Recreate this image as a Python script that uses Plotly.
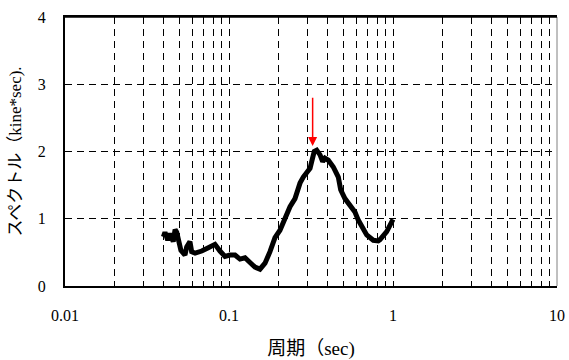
import math
import plotly.graph_objects as go

# Period (sec) and spectrum values (kine*sec)
period = [0.0398, 0.0407, 0.0423, 0.0437, 0.0457, 0.0469, 0.048, 0.0491, 0.0509,
          0.0539, 0.0552, 0.0578, 0.0592, 0.0621, 0.0682, 0.0748, 0.0821, 0.0881,
          0.0945, 0.1014, 0.1088, 0.1167, 0.1252, 0.1343, 0.144, 0.1545, 0.1658,
          0.1778, 0.1907, 0.2046, 0.2195, 0.2355, 0.2526, 0.271, 0.2838, 0.312,
          0.3193, 0.331, 0.3426, 0.359, 0.3726, 0.3846, 0.4032, 0.4325, 0.464,
          0.4797, 0.5093, 0.547, 0.586, 0.6142, 0.644, 0.6913, 0.7585, 0.8128,
          0.833, 0.9155, 1.0]
spectrum = [0.73, 0.80, 0.68, 0.78, 0.66, 0.84, 0.80, 0.66, 0.53,
            0.46, 0.58, 0.66, 0.51, 0.49, 0.52, 0.57, 0.62, 0.52,
            0.44, 0.46, 0.46, 0.40, 0.42, 0.35, 0.28, 0.25, 0.34,
            0.51, 0.72, 0.83, 1.00, 1.18, 1.30, 1.53, 1.62, 1.75,
            1.85, 2.00, 2.02, 1.95, 1.85, 1.90, 1.87, 1.77, 1.62,
            1.43, 1.30, 1.20, 1.10, 0.98, 0.88, 0.76, 0.68, 0.67,
            0.69, 0.81, 0.99]

peak_period = 0.3236
arrow_top = 2.82
arrow_tip = 2.08

y_ticks = [0, 1, 2, 3, 4]
x_tickvals = [m * 10 ** e for e in (-2, -1, 0) for m in range(1, 10)] + [10]
x_labels = {0.01: "0.01", 0.1: "0.1", 1: "1", 10: "10"}
x_ticktext = [x_labels.get(v, "") for v in x_tickvals]

serif = "Times New Roman, Liberation Serif, serif"
cjk = "Noto Sans CJK JP, sans-serif"


def cj(s):
    return '<span style="font-family:' + cjk + '">' + s + '</span>'


def se(s):
    return '<span style="font-family:' + serif + '">' + s + '</span>'


fig = go.Figure()
fig.add_trace(go.Scatter(x=period, y=spectrum, mode="lines",
                         line=dict(color="black", width=5), hoverinfo="skip"))

fig.add_annotation(x=math.log10(peak_period), y=arrow_tip,
                   ax=math.log10(peak_period), ay=arrow_top,
                   xref="x", yref="y", axref="x", ayref="y",
                   showarrow=True, arrowhead=2, arrowsize=1.2, arrowwidth=1.5,
                   arrowcolor="#ff0000", text="")

fig.add_shape(type="line", xref="paper", yref="paper", x0=1, x1=1, y0=0, y1=1,
              line=dict(color="#808080", width=1))
fig.add_shape(type="line", xref="paper", yref="paper", x0=0, x1=1, y0=1, y1=1,
              line=dict(color="black", width=1.5))

fig.update_layout(
    width=569, height=360,
    margin=dict(l=65, r=12, t=17, b=74, autoexpand=False),
    paper_bgcolor="white", plot_bgcolor="white",
    showlegend=False,
    font=dict(family=serif, size=15, color="black"),
    xaxis=dict(type="log", range=[-2, 1], automargin=False,
               tickvals=x_tickvals, ticktext=x_ticktext,
               ticks="inside", ticklen=5, tickcolor="black", tickwidth=1,
               showline=True, linecolor="black", linewidth=2, mirror="ticks",
               showgrid=True, gridcolor="black", gridwidth=1, griddash="7px,5px",
               ticklabelstandoff=14, zeroline=False,
               tickfont=dict(family=serif, size=16),
               title=dict(text=cj("周期（") + se("sec)"),
                          font=dict(size=19), standoff=20)),
    yaxis=dict(range=[0, 4], tickvals=y_ticks, automargin=False,
               ticks="", showline=True, linecolor="black", linewidth=2, mirror=False,
               showgrid=True, gridcolor="black", gridwidth=1, griddash="7px,5px",
               ticklabelstandoff=14, zeroline=False,
               tickfont=dict(family=serif, size=16),
               title=dict(text=cj("スペクトル（") + se("kine*sec)."),
                          font=dict(size=17), standoff=12)),
)

fig.write_html("out.html", config={"displayModeBar": False},
               post_script="document.body.style.margin='0';document.body.style.padding='0';")
